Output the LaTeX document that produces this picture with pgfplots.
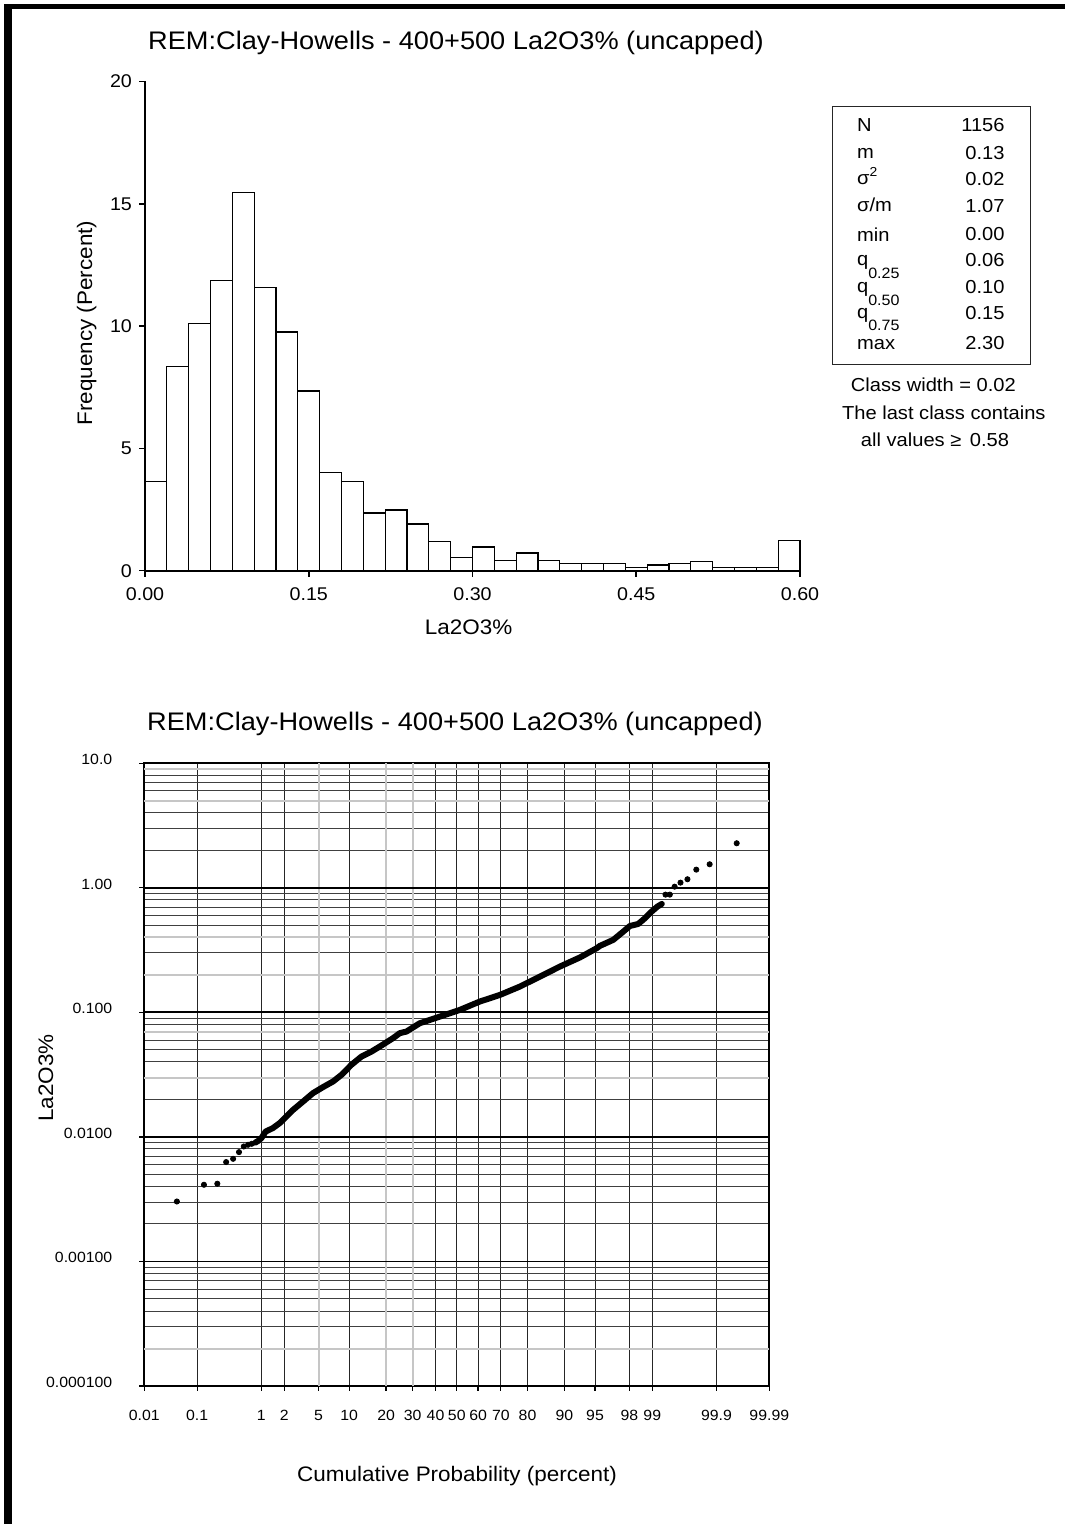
\documentclass[border=0pt]{standalone}
\usepackage{fontspec}
\setmainfont{Liberation Sans}[FakeStretch=1.07]
\usepackage{pgfplots}
\usepackage{pgfplotstable}
\pgfplotsset{compat=1.18}

% histogram: left edge of class, frequency (percent)
\pgfplotstableread{
x y
0.00 3.64
0.02 8.36
0.04 10.11
0.06 11.86
0.08 15.47
0.10 11.59
0.12 9.76
0.14 7.35
0.16 4.02
0.18 3.64
0.20 2.36
0.22 2.48
0.24 1.91
0.26 1.20
0.28 0.53
0.30 0.97
0.32 0.41
0.34 0.72
0.36 0.41
0.38 0.29
0.40 0.29
0.42 0.29
0.44 0.14
0.46 0.23
0.48 0.30
0.50 0.36
0.52 0.14
0.54 0.14
0.56 0.14
0.58 1.23
0.60 1.23
}\histdata

% probability plot: normal score of cumulative probability, value
\pgfplotstableread{
z v
-3.331 0.00303
-3.009 0.00413
-2.850 0.00421
-2.745 0.00628
-2.662 0.00667
-2.592 0.00755
-2.535 0.00838
-2.484 0.00865
-2.440 0.00881
}\lowtail

\pgfplotstableread{
z v
-2.399 0.00900
-2.362 0.00930
-2.326 0.00977
-2.275 0.01104
-2.188 0.01178
-2.108 0.01291
-2.028 0.01459
-1.949 0.01648
-1.830 0.01923
-1.711 0.02249
-1.592 0.02512
-1.473 0.02786
-1.373 0.03148
-1.254 0.03795
-1.135 0.04415
-1.016 0.04842
-0.897 0.05420
-0.759 0.06209
-0.679 0.06810
-0.599 0.07015
-0.441 0.08180
-0.202 0.09250
0.036 0.10470
0.274 0.12220
0.512 0.13800
0.750 0.16110
0.988 0.19370
1.227 0.23330
1.465 0.27600
1.664 0.32730
1.703 0.34200
1.861 0.38200
1.981 0.44500
2.060 0.49400
2.159 0.51300
2.239 0.57000
2.318 0.64400
2.386 0.70600
2.440 0.74300
}\densepart

\pgfplotstableread{
z v
2.484 0.882
2.535 0.882
2.592 1.022
2.662 1.101
2.745 1.172
2.850 1.400
3.009 1.546
3.331 2.280
}\uptail

\begin{document}
\begin{tikzpicture}[x=1pt,y=1pt]
\path[use as bounding box] (0pt,0pt) rectangle (532.5pt,762pt);
\fill[black] (2pt,0pt) rectangle (6pt,760pt);
\fill[black] (2pt,757.5pt) rectangle (532.5pt,760pt);

% ---------------- histogram ----------------
\begin{axis}[
  at={(72.5pt,476.65pt)}, anchor=south west,
  scale only axis, width=327.5pt, height=244.6pt,
  xmin=0, xmax=0.6, ymin=0, ymax=20,
  axis lines=left,
  axis line style={-, line width=0.9pt},
  tick align=outside, major tick length=3pt,
  tick style={black, line width=0.8pt},
  xtick={0,0.15,0.3,0.45,0.6},
  xticklabels={0.00,0.15,0.30,0.45,0.60},
  ytick={0,5,10,15,20},
  yticklabels={0,5,10,15,20},
  minor tick num=0,
  tick label style={font=\fontsize{9.2}{11}\selectfont},
  xticklabel style={yshift=-2pt},
  clip=false,
]
\addplot[ybar interval, fill=white, draw=black, line width=0.6pt] table[x=x,y=y]{\histdata};
\end{axis}

\node[anchor=base, inner sep=0] at (228pt,737pt) {\fontsize{12.7}{15}\selectfont REM:Clay-Howells - 400+500 La2O3\% (uncapped)};
\node[anchor=base, inner sep=0] at (234.35pt,444.5pt) {\fontsize{10.5}{12}\selectfont La2O3\%};
\node[anchor=base, rotate=90, inner sep=0] at (46pt,600.5pt) {\fontsize{10.5}{12}\selectfont Frequency (Percent)};

% statistics box
\draw[line width=0.7pt, black!85] (416.35pt,579.85pt) rectangle (515.35pt,708.65pt);
\begingroup
\fontsize{9.4}{11}\selectfont
\node[anchor=base west, inner sep=0] at (428.35pt,696.15pt) {N};
\node[anchor=base east, inner sep=0] at (502.5pt,696.15pt) {1156};
\node[anchor=base west, inner sep=0] at (428.35pt,682.6pt) {m};
\node[anchor=base east, inner sep=0] at (502.5pt,682pt) {0.13};
\node[anchor=base west, inner sep=0] at (428.35pt,669.5pt) {σ\raisebox{4.2pt}{\fontsize{6.5}{7}\selectfont 2}};
\node[anchor=base east, inner sep=0] at (502.5pt,669pt) {0.02};
\node[anchor=base west, inner sep=0] at (428.35pt,656pt) {σ/m};
\node[anchor=base east, inner sep=0] at (502.5pt,655.65pt) {1.07};
\node[anchor=base west, inner sep=0] at (428.35pt,641.25pt) {min};
\node[anchor=base east, inner sep=0] at (502.5pt,641.5pt) {0.00};
\node[anchor=base west, inner sep=0] at (428.35pt,629.25pt) {q\raisebox{-6.4pt}{\fontsize{7.5}{8}\selectfont 0.25}};
\node[anchor=base east, inner sep=0] at (502.5pt,628.65pt) {0.06};
\node[anchor=base west, inner sep=0] at (428.35pt,615.75pt) {q\raisebox{-6.4pt}{\fontsize{7.5}{8}\selectfont 0.50}};
\node[anchor=base east, inner sep=0] at (502.5pt,615pt) {0.10};
\node[anchor=base west, inner sep=0] at (428.35pt,602.95pt) {q\raisebox{-6.4pt}{\fontsize{7.5}{8}\selectfont 0.75}};
\node[anchor=base east, inner sep=0] at (502.5pt,602.35pt) {0.15};
\node[anchor=base west, inner sep=0] at (428.35pt,587.35pt) {max};
\node[anchor=base east, inner sep=0] at (502.5pt,587.35pt) {2.30};
\node[anchor=base, inner sep=0] at (466.7pt,566.15pt) {Class width = 0.02};
\node[anchor=base, inner sep=0] at (471.9pt,552.35pt) {The last class contains};
\node[anchor=base, inner sep=0] at (467.5pt,538.65pt) {all values ≥\hspace{0.45em}0.58};
\endgroup

% ---------------- probability plot ----------------
\begin{axis}[
  at={(72.15pt,69pt)}, anchor=south west,
  scale only axis, width=312.5pt, height=311.35pt,
  xmin=-3.71902, xmax=3.71902,
  ymode=log, ymin=1e-4, ymax=10,
  xtick={-3.71902,-3.09023,-2.32635,-2.05375,-1.64485,-1.28155,-0.84162,-0.52440,-0.25335,0,0.25335,0.52440,0.84162,1.28155,1.64485,2.05375,2.32635,3.09023,3.71902},
  xticklabels={0.01,0.1,1,2,5,10,20,30,40,50,60,70,80,90,95,98,99,99.9,99.99},
  ytick={1e-4,1e-3,1e-2,1e-1,1,10},
  yticklabels={0.000100,0.00100,0.0100,0.100,1.00,10.0},
  minor ytick={2e-4,3e-4,4e-4,5e-4,6e-4,7e-4,8e-4,9e-4,
               2e-3,3e-3,4e-3,5e-3,6e-3,7e-3,8e-3,9e-3,
               2e-2,3e-2,4e-2,5e-2,6e-2,7e-2,8e-2,9e-2,
               0.2,0.3,0.4,0.5,0.6,0.7,0.8,0.9,
               2,3,4,5,6,7,8,9},
  xmajorgrids, ymajorgrids, yminorgrids,
  major grid style={black!85, line width=0.5pt},
  minor grid style={black!75, line width=0.5pt},
  axis line style={line width=1.1pt},
  tick align=outside, major tick length=2.5pt, minor tick length=0pt,
  xtick pos=lower, ytick pos=left,
  tick style={black, line width=0.6pt},
  tick label style={font=\fontsize{7.4}{9}\selectfont},
  xticklabel style={yshift=-6pt},
  yticklabel style={xshift=-10pt, yshift=1.85pt},
  clip=false,
]
% lighter grid lines as in the reference
\draw[gray!45, line width=1pt] (axis cs:-1.64485,1e-4) -- (axis cs:-1.64485,10);
\draw[gray!45, line width=1pt] (axis cs:-0.84162,1e-4) -- (axis cs:-0.84162,10);
\draw[gray!45, line width=1pt] (axis cs:-0.52440,1e-4) -- (axis cs:-0.52440,10);
\draw[gray!45, line width=1pt] (axis cs:-3.71902,9) -- (axis cs:3.71902,9);
\draw[gray!45, line width=1pt] (axis cs:-3.71902,5) -- (axis cs:3.71902,5);
\draw[gray!45, line width=1pt] (axis cs:-3.71902,0.4) -- (axis cs:3.71902,0.4);
\draw[gray!45, line width=1pt] (axis cs:-3.71902,0.2) -- (axis cs:3.71902,0.2);
\draw[gray!45, line width=1pt] (axis cs:-3.71902,0.07) -- (axis cs:3.71902,0.07);
\draw[gray!45, line width=1pt] (axis cs:-3.71902,0.03) -- (axis cs:3.71902,0.03);
\draw[gray!45, line width=1pt] (axis cs:-3.71902,0.0002) -- (axis cs:3.71902,0.0002);
% decade lines
\draw[black, line width=0.9pt] (axis cs:-3.71902,0.001) -- (axis cs:3.71902,0.001);
\draw[black, line width=0.9pt] (axis cs:-3.71902,0.01) -- (axis cs:3.71902,0.01);
\draw[black, line width=0.9pt] (axis cs:-3.71902,0.1) -- (axis cs:3.71902,0.1);
\draw[black, line width=0.9pt] (axis cs:-3.71902,1) -- (axis cs:3.71902,1);
\addplot[only marks, mark=*, mark size=1.3pt, black] table[x=z,y=v]{\lowtail};
\addplot[black, line width=3pt, line cap=round, line join=round, no markers] table[x=z,y=v]{\densepart};
\addplot[only marks, mark=*, mark size=1.3pt, black] table[x=z,y=v]{\uptail};
\end{axis}

\node[anchor=base, inner sep=0] at (227.5pt,396.5pt) {\fontsize{12.7}{15}\selectfont REM:Clay-Howells - 400+500 La2O3\% (uncapped)};
\node[anchor=base, inner sep=0] at (228.5pt,21.15pt) {\fontsize{10.5}{12}\selectfont Cumulative Probability (percent)};
\node[anchor=base, rotate=90, inner sep=0] at (26.5pt,223pt) {\fontsize{10.5}{12}\selectfont La2O3\%};
\end{tikzpicture}
\end{document}
